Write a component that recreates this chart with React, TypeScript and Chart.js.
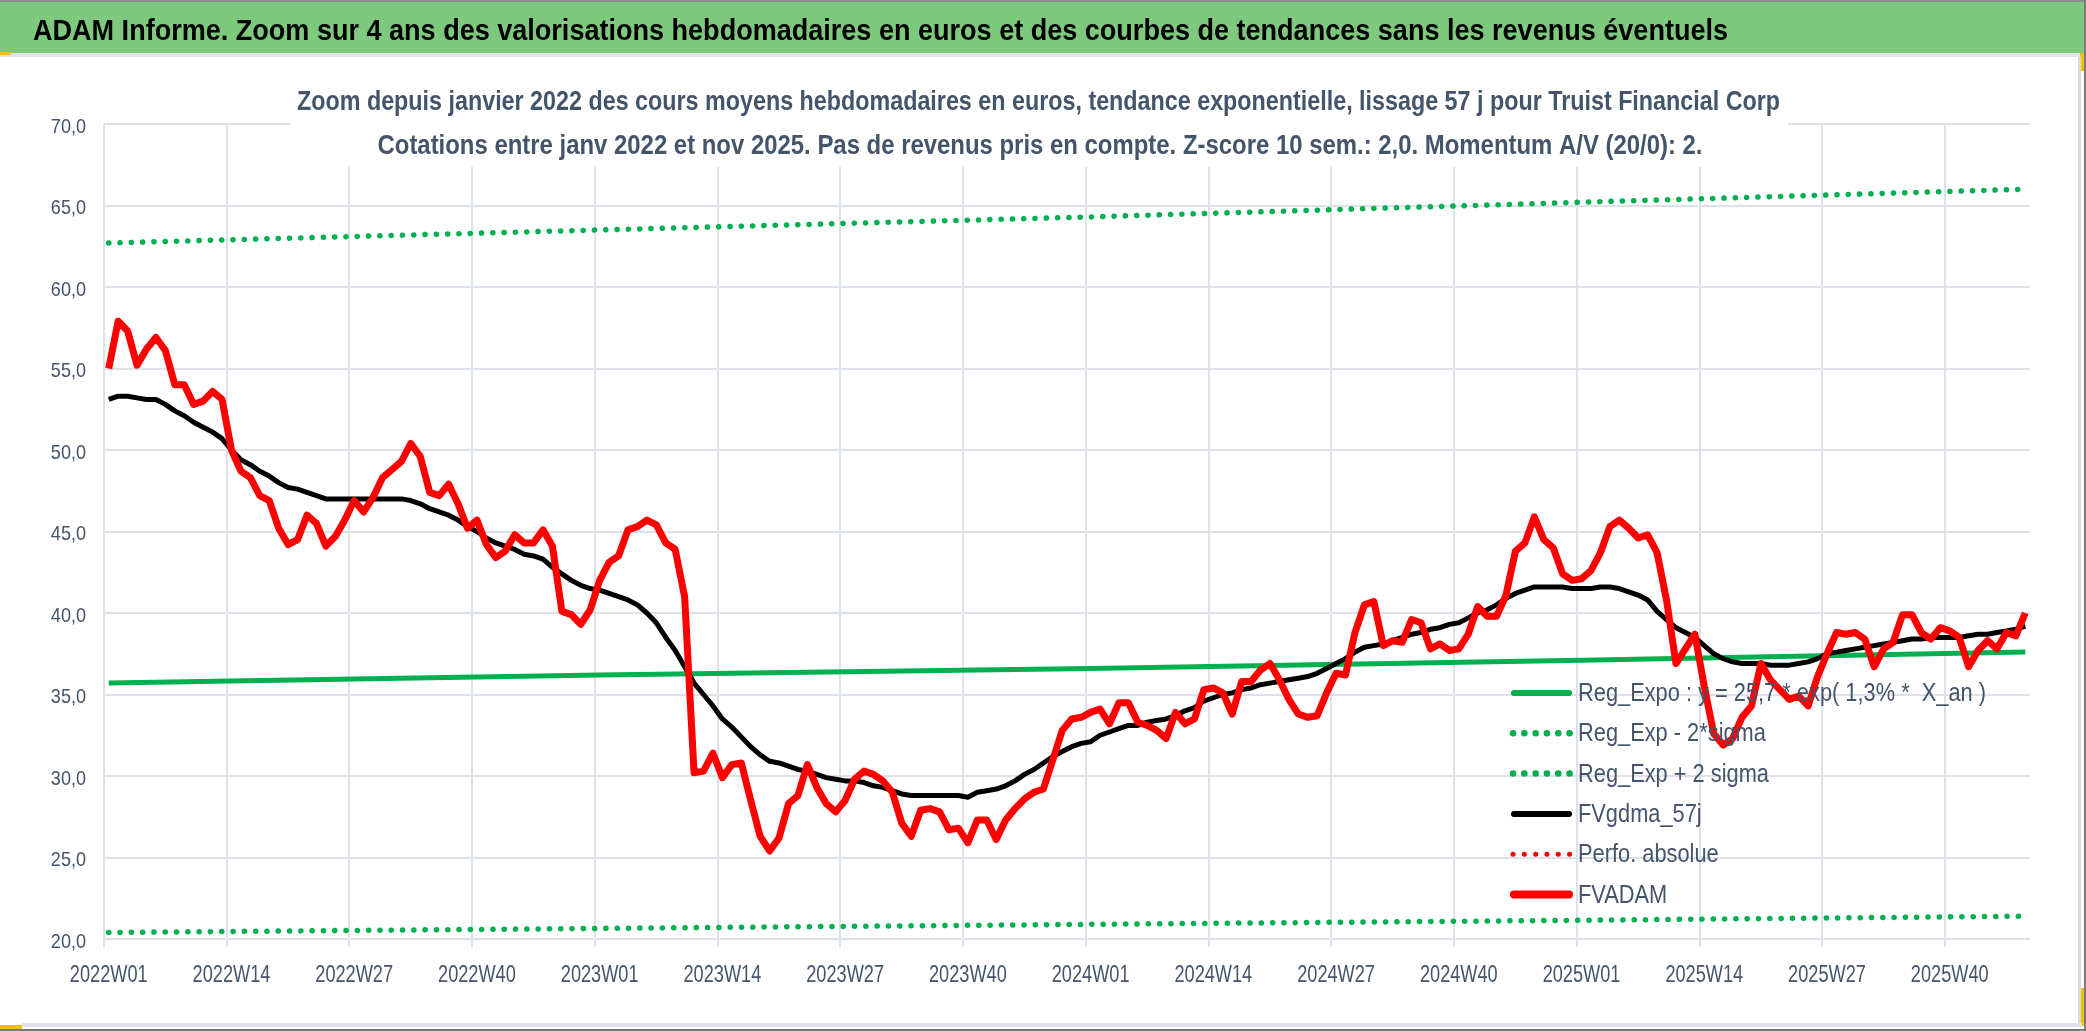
import React, { useEffect, useRef } from 'react';
import { Chart, registerables } from 'chart.js';

Chart.register(...registerables);

// week categories: 2022W01 .. 2025W48
const years = [2022, 2023, 2024, 2025];
const weeksPerYear = [52, 52, 52, 48];
const weekLabels: string[] = [];
years.forEach((yr, k) => {
  for (let w = 1; w <= weeksPerYear[k]; w++) weekLabels.push(`${yr}W${String(w).padStart(2, '0')}`);
});
const labelEvery = 13;

// FVADAM, weekly average price in euros
const fvadam = [
  55.0, 57.9, 57.3, 55.2, 56.2, 56.9, 56.1, 54.0, 54.0, 52.8,
  53.0, 53.6, 53.1, 50.0, 48.7, 48.3, 47.2, 46.9, 45.2, 44.2,
  44.5, 46.0, 45.5, 44.1, 44.7, 45.7, 46.9, 46.2, 47.1, 48.3,
  48.8, 49.3, 50.4, 49.6, 47.4, 47.2, 47.9, 46.7, 45.2, 45.7,
  44.2, 43.4, 43.8, 44.8, 44.3, 44.3, 45.1, 44.1, 40.1, 39.9,
  39.3, 40.2, 42.0, 43.1, 43.5, 45.1, 45.3, 45.7, 45.4, 44.3,
  43.9, 41.0, 30.2, 30.3, 31.4, 29.9, 30.7, 30.8, 28.5, 26.3,
  25.4, 26.2, 28.3, 28.8, 30.7, 29.3, 28.3, 27.8, 28.5, 29.8,
  30.3, 30.1, 29.7, 29.0, 27.1, 26.3, 27.9, 28.0, 27.8, 26.7,
  26.8, 25.9, 27.3, 27.3, 26.1, 27.3, 28.0, 28.6, 29.0, 29.2,
  31.0, 32.8, 33.5, 33.6, 33.9, 34.1, 33.2, 34.5, 34.5, 33.3,
  33.1, 32.8, 32.3, 33.9, 33.2, 33.5, 35.3, 35.4, 35.1, 33.8,
  35.8, 35.8, 36.5, 36.9, 35.9, 34.7, 33.8, 33.6, 33.7, 35.1,
  36.3, 36.2, 38.8, 40.5, 40.7, 38.0, 38.3, 38.2, 39.6, 39.4,
  37.8, 38.1, 37.7, 37.8, 38.7, 40.4, 39.8, 39.8, 41.1, 43.8,
  44.3, 45.9, 44.5, 44.0, 42.4, 42.0, 42.1, 42.6, 43.7, 45.3,
  45.7, 45.2, 44.6, 44.8, 43.7, 40.8, 36.9, 37.8, 38.7, 35.5,
  32.6, 31.9, 32.3, 33.6, 34.3, 36.9, 35.9, 35.3, 34.7, 34.9,
  34.3, 36.1, 37.5, 38.8, 38.7, 38.8, 38.4, 36.7, 37.8, 38.2,
  39.9, 39.9, 38.8, 38.4, 39.1, 38.9, 38.5, 36.7, 37.7, 38.3,
  37.8, 38.8, 38.6, 40.0,
];

// FVgdma_57j, smoothed curve
const fvgdma57 = [
  53.1, 53.3, 53.3, 53.2, 53.1, 53.1, 52.8, 52.4, 52.1, 51.7,
  51.4, 51.1, 50.7, 50.0, 49.4, 49.1, 48.7, 48.4, 48.0, 47.7,
  47.6, 47.4, 47.2, 47.0, 47.0, 47.0, 47.0, 47.0, 47.0, 47.0,
  47.0, 47.0, 46.9, 46.7, 46.4, 46.2, 46.0, 45.7, 45.3, 45.0,
  44.6, 44.3, 44.1, 43.9, 43.6, 43.5, 43.3, 42.8, 42.4, 42.0,
  41.7, 41.5, 41.4, 41.2, 41.0, 40.8, 40.5, 40.0, 39.4, 38.5,
  37.7, 36.7, 35.7, 35.0, 34.3, 33.5, 33.0, 32.4, 31.8, 31.3,
  30.9, 30.8, 30.6, 30.4, 30.3, 30.1, 29.9, 29.8, 29.7, 29.7,
  29.6, 29.4, 29.3, 29.1, 28.9, 28.8, 28.8, 28.8, 28.8, 28.8,
  28.8, 28.7, 29.0, 29.1, 29.2, 29.4, 29.7, 30.1, 30.4, 30.8,
  31.2, 31.5, 31.8, 32.0, 32.1, 32.5, 32.7, 32.9, 33.1, 33.1,
  33.3, 33.4, 33.5, 33.7, 34.0, 34.2, 34.6, 34.8, 35.0, 35.1,
  35.3, 35.4, 35.6, 35.7, 35.8, 35.9, 36.0, 36.1, 36.3, 36.6,
  36.9, 37.2, 37.6, 37.9, 38.0, 38.1, 38.3, 38.5, 38.7, 38.8,
  39.0, 39.1, 39.3, 39.4, 39.7, 40.0, 40.2, 40.5, 40.9, 41.2,
  41.4, 41.6, 41.6, 41.6, 41.6, 41.5, 41.5, 41.5, 41.6, 41.6,
  41.5, 41.3, 41.1, 40.8, 40.1, 39.6, 39.1, 38.8, 38.5, 38.0,
  37.5, 37.2, 37.0, 36.9, 36.9, 36.9, 36.8, 36.8, 36.8, 36.9,
  37.0, 37.2, 37.5, 37.6, 37.7, 37.8, 37.9, 38.0, 38.1, 38.2,
  38.3, 38.4, 38.4, 38.5, 38.5, 38.5, 38.5, 38.6, 38.7, 38.7,
  38.8, 38.9, 39.0, 39.2,
];

// exponential regression and +/- 2 sigma bands, read at a few weeks
const regWeeks = ['2022W01', '2023W01', '2024W01', '2025W01', '2025W48'];
const regExpo = [35.7, 36.2, 36.6, 37.1, 37.6];
const regMinus2Sigma = [20.4, 20.65, 20.9, 21.15, 21.4];
const regPlus2Sigma = [62.7, 63.5, 64.3, 65.2, 66.0];
const perfoAbsolue: number[] = [];

const seriesNames = [
  'Reg_Expo : y = 25,7 * exp( 1,3% *  X_an )',
  'Reg_Exp - 2*sigma',
  'Reg_Exp + 2 sigma',
  'FVgdma_57j',
  'Perfo. absolue',
  'FVADAM',
];

const headerTitle =
  'ADAM Informe. Zoom sur 4 ans des valorisations hebdomadaires en euros et des courbes de tendances sans les revenus éventuels';
const titleLines = [
  'Zoom depuis janvier 2022 des cours moyens hebdomadaires en euros, tendance exponentielle, lissage 57 j pour Truist Financial Corp',
  'Cotations entre janv 2022 et nov 2025. Pas de revenus pris en compte. Z-score 10 sem.: 2,0. Momentum A/V (20/0): 2.',
];

const SANS = '"Liberation Sans Narrow", "Liberation Sans", Arial, sans-serif';
const TXT = '#44546a';
const GRID = '#dde1e8';
const GREEN = '#00b050';
const RED = '#ff0000';

const toPoints = (vals: number[]) => regWeeks.map((x, k) => ({ x, y: vals[k] }));
const fmtTick = (v: number) => v.toFixed(1).replace('.', ',');

// draw text squeezed/stretched to a given width
function fitText(ctx: CanvasRenderingContext2D, text: string, x: number, y: number, w: number, align: CanvasTextAlign) {
  const m = ctx.measureText(text).width;
  ctx.save();
  ctx.translate(x, y);
  ctx.scale(w / m, 1);
  ctx.textAlign = align;
  ctx.fillText(text, 0, 0);
  ctx.restore();
}

// draw text with a fixed horizontal squeeze (narrow look)
function narrowText(ctx: CanvasRenderingContext2D, text: string, x: number, y: number, sx: number, align: CanvasTextAlign) {
  ctx.save();
  ctx.translate(x, y);
  ctx.scale(sx, 1);
  ctx.textAlign = align;
  ctx.fillText(text, 0, 0);
  ctx.restore();
}

const framePlugin = {
  id: 'frame',
  beforeDraw(chart: any) {
    const { ctx, width, height } = chart;
    ctx.save();
    ctx.fillStyle = '#ffffff';
    ctx.fillRect(0, 0, width, height);
    // green header band
    ctx.fillStyle = '#7ec97e';
    ctx.fillRect(0, 0, width, 53);
    ctx.fillStyle = '#8c8c8c';
    ctx.fillRect(0, 0, width, 2);
    ctx.fillStyle = '#dfe2e8';
    ctx.fillRect(0, 53, 2082, 4);
    ctx.fillStyle = '#f2c200';
    ctx.fillRect(0, 52, 11, 3);
    ctx.fillRect(2080, 53, 4, 18);
    ctx.fillRect(2080, 988, 4, 38);
    ctx.fillRect(0, 1025, 22, 4);
    // frame borders
    ctx.fillStyle = '#d9dbe0';
    ctx.fillRect(2078, 57, 3, 968);
    ctx.fillStyle = '#dfe2e8';
    ctx.fillRect(22, 1023, 2060, 4);
    ctx.fillStyle = '#7a7a7a';
    ctx.fillRect(0, 1029, width, 2);
    ctx.fillRect(2084, 0, 2, height);
    // header text
    ctx.fillStyle = '#000000';
    ctx.font = `bold 29px ${SANS}`;
    ctx.textBaseline = 'alphabetic';
    fitText(ctx, headerTitle, 33, 40, 1695, 'left');
    ctx.restore();
  },
};

const titlePlugin = {
  id: 'boxedTitle',
  beforeDatasetsDraw(chart: any) {
    const { ctx } = chart;
    ctx.save();
    ctx.fillStyle = '#ffffff';
    ctx.fillRect(290, 76, 1498, 91);
    ctx.fillStyle = TXT;
    ctx.font = `bold 28px ${SANS}`;
    ctx.textBaseline = 'alphabetic';
    fitText(ctx, titleLines[0], 1038.5, 110, 1483, 'center');
    fitText(ctx, titleLines[1], 1040, 154, 1325, 'center');
    ctx.restore();
  },
};

const tickLabelPlugin = {
  id: 'narrowTicks',
  afterDatasetsDraw(chart: any) {
    const { ctx } = chart;
    const xs = chart.scales.x;
    const ys = chart.scales.y;
    ctx.save();
    ctx.fillStyle = TXT;
    ctx.textBaseline = 'alphabetic';
    ctx.font = `23px ${SANS}`;
    weekLabels.forEach((lab, i) => {
      if (i % labelEvery !== 0) return;
      narrowText(ctx, lab, xs.getPixelForValue(i), 981.5, 0.79, 'center');
    });
    ctx.font = `21px ${SANS}`;
    ys.ticks.forEach((t: any) => {
      narrowText(ctx, fmtTick(t.value), 86, ys.getPixelForValue(t.value) + 8.5, 0.86, 'right');
    });
    ctx.restore();
  },
};

const legendPlugin = {
  id: 'innerLegend',
  afterDraw(chart: any) {
    const { ctx } = chart;
    const ds = chart.data.datasets;
    ctx.save();
    ctx.font = `26px ${SANS}`;
    const sx = 408 / ctx.measureText(seriesNames[0]).width;
    ds.forEach((d: any, k: number) => {
      const y = 693 + k * 40.3;
      const isDotted = d.borderDash && d.borderDash.length;
      ctx.strokeStyle = d.borderColor;
      ctx.lineWidth = d.borderWidth + 1;
      ctx.lineCap = 'round';
      ctx.setLineDash(isDotted ? d.borderDash : []);
      ctx.beginPath();
      ctx.moveTo(isDotted ? 1513 : 1514, y);
      ctx.lineTo(isDotted ? 1571 : 1569, y);
      ctx.stroke();
      ctx.setLineDash([]);
      ctx.fillStyle = TXT;
      ctx.textBaseline = 'middle';
      narrowText(ctx, d.label, 1578, y + 1, sx, 'left');
    });
    ctx.restore();
  },
};

const App: React.FC = () => {
  const canvasRef = useRef<HTMLCanvasElement | null>(null);

  useEffect(() => {
    document.body.style.margin = '0';
    if (!canvasRef.current) return;
    const dotted = [0.1, 11.2];
    const chart = new Chart(canvasRef.current, {
      type: 'line',
      data: {
        labels: weekLabels,
        datasets: [
          { label: seriesNames[0], data: toPoints(regExpo), borderColor: GREEN, borderWidth: 5, order: 2 },
          { label: seriesNames[1], data: toPoints(regMinus2Sigma), borderColor: GREEN, borderWidth: 5.5, borderDash: dotted, borderCapStyle: 'round', order: 3 },
          { label: seriesNames[2], data: toPoints(regPlus2Sigma), borderColor: GREEN, borderWidth: 5.5, borderDash: dotted, borderCapStyle: 'round', order: 3 },
          { label: seriesNames[3], data: fvgdma57, borderColor: '#000000', borderWidth: 5, order: 1 },
          { label: seriesNames[4], data: perfoAbsolue, borderColor: RED, borderWidth: 4, borderDash: dotted, borderCapStyle: 'round', order: 1 },
          { label: seriesNames[5], data: fvadam, borderColor: RED, borderWidth: 7, order: 0 },
        ] as any,
      },
      options: {
        animation: false,
        responsive: false,
        devicePixelRatio: 1,
        layout: { padding: { top: 124, right: 56, left: 0, bottom: 0 } },
        elements: {
          point: { radius: 0, hoverRadius: 0 },
          line: { tension: 0, borderJoinStyle: 'round', fill: false },
        },
        plugins: {
          legend: { display: false },
          title: { display: false },
          tooltip: { enabled: false },
        },
        scales: {
          x: {
            type: 'category',
            offset: true,
            grid: {
              offset: true,
              lineWidth: 2,
              tickLength: 8,
              color: (c: any) => (c.index % labelEvery === 0 ? GRID : 'rgba(0,0,0,0)'),
            },
            border: { display: false },
            ticks: { display: false, autoSkip: false, maxRotation: 0 },
            afterFit: (s: any) => {
              s.height = 92;
            },
          },
          y: {
            min: 20,
            max: 70,
            grid: { color: GRID, lineWidth: 2, drawTicks: false },
            border: { display: false },
            ticks: { display: false, stepSize: 5 },
            afterFit: (s: any) => {
              s.width = 104;
            },
          },
        },
      } as any,
      plugins: [framePlugin, titlePlugin, tickLabelPlugin, legendPlugin],
    });
    return () => chart.destroy();
  }, []);

  return (
    <div style={{ position: 'fixed', left: 0, top: 0, width: 2086, height: 1031, background: '#fff' }}>
      <canvas ref={canvasRef} width={2086} height={1031} style={{ display: 'block' }} />
    </div>
  );
};

export default App;
